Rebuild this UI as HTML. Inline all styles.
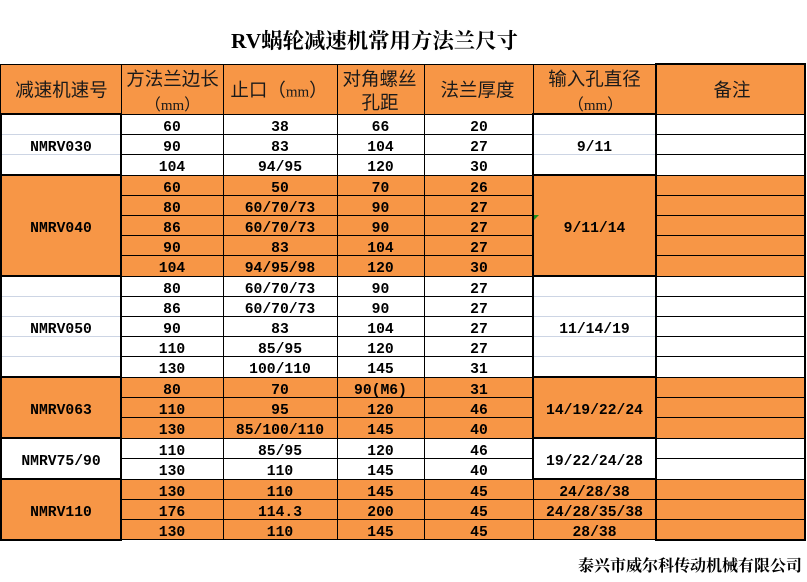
<!DOCTYPE html>
<html>
<head>
<meta charset="utf-8">
<style>
html,body{margin:0;padding:0;background:#fff;}
svg{display:block;}
.d{font-family:"Liberation Mono","Noto Sans CJK SC",monospace;font-weight:bold;font-size:14.7px;fill:#000;text-anchor:middle;}
.h{font-family:"Noto Sans CJK SC","Liberation Sans",sans-serif;font-size:18.5px;fill:#1a1a1a;text-anchor:middle;}
.hs{font-family:"Noto Sans CJK SC","Liberation Sans",sans-serif;font-size:16px;fill:#1a1a1a;text-anchor:middle;}
.mm{font-family:"Liberation Serif",serif;font-size:15px;}
</style>
</head>
<body>
<svg width="807" height="582" viewBox="0 0 807 582" xmlns="http://www.w3.org/2000/svg">
<rect x="0" y="0" width="807" height="582" fill="#fff"/>
<g fill="#F79646">
<rect x="0" y="64" width="806" height="50"/>
<rect x="0" y="175" width="806" height="101"/>
<rect x="0" y="377" width="806" height="61"/>
<rect x="0" y="479" width="806" height="61"/>
</g>
<g fill="#CDD5E4">
<rect x="1" y="134" width="119" height="1"/>
<rect x="1" y="154" width="119" height="1"/>
<rect x="1" y="296" width="119" height="1"/>
<rect x="1" y="316" width="119" height="1"/>
<rect x="1" y="336" width="119" height="1"/>
<rect x="1" y="356" width="119" height="1"/>
<rect x="534" y="134" width="121" height="1"/>
<rect x="534" y="154" width="121" height="1"/>
<rect x="534" y="296" width="121" height="1"/>
<rect x="534" y="316" width="121" height="1"/>
<rect x="534" y="336" width="121" height="1"/>
<rect x="534" y="356" width="121" height="1"/>
</g>
<g fill="#000">
<rect x="0" y="64" width="656" height="1"/>
<rect x="121" y="114" width="412" height="1"/>
<rect x="121" y="134" width="412" height="1"/>
<rect x="121" y="154" width="412" height="1"/>
<rect x="121" y="175" width="412" height="1"/>
<rect x="121" y="195" width="412" height="1"/>
<rect x="121" y="215" width="412" height="1"/>
<rect x="121" y="235" width="412" height="1"/>
<rect x="121" y="255" width="412" height="1"/>
<rect x="121" y="276" width="412" height="1"/>
<rect x="121" y="296" width="412" height="1"/>
<rect x="121" y="316" width="412" height="1"/>
<rect x="121" y="336" width="412" height="1"/>
<rect x="121" y="356" width="412" height="1"/>
<rect x="121" y="377" width="412" height="1"/>
<rect x="121" y="397" width="412" height="1"/>
<rect x="121" y="417" width="412" height="1"/>
<rect x="121" y="438" width="412" height="1"/>
<rect x="121" y="458" width="412" height="1"/>
<rect x="121" y="479" width="412" height="1"/>
<rect x="121" y="499" width="412" height="1"/>
<rect x="121" y="519" width="412" height="1"/>
<rect x="121" y="539" width="412" height="1"/>
<rect x="656" y="114" width="149" height="1"/>
<rect x="656" y="134" width="149" height="1"/>
<rect x="656" y="154" width="149" height="1"/>
<rect x="656" y="175" width="149" height="1"/>
<rect x="656" y="195" width="149" height="1"/>
<rect x="656" y="215" width="149" height="1"/>
<rect x="656" y="235" width="149" height="1"/>
<rect x="656" y="255" width="149" height="1"/>
<rect x="656" y="276" width="149" height="1"/>
<rect x="656" y="296" width="149" height="1"/>
<rect x="656" y="316" width="149" height="1"/>
<rect x="656" y="336" width="149" height="1"/>
<rect x="656" y="356" width="149" height="1"/>
<rect x="656" y="377" width="149" height="1"/>
<rect x="656" y="397" width="149" height="1"/>
<rect x="656" y="417" width="149" height="1"/>
<rect x="656" y="438" width="149" height="1"/>
<rect x="656" y="458" width="149" height="1"/>
<rect x="656" y="479" width="149" height="1"/>
<rect x="656" y="499" width="149" height="1"/>
<rect x="656" y="519" width="149" height="1"/>
<rect x="533" y="499" width="123" height="1"/>
<rect x="533" y="519" width="123" height="1"/>
<rect x="533" y="539" width="123" height="1"/>
<rect x="0" y="64" width="1" height="50"/>
<rect x="121" y="64" width="1" height="50"/>
<rect x="223" y="64" width="1" height="476"/>
<rect x="337" y="64" width="1" height="476"/>
<rect x="424" y="64" width="1" height="476"/>
<rect x="533" y="64" width="1" height="50"/>
<rect x="533" y="479" width="1" height="61"/>
</g>
<g fill="#000">
<rect x="0" y="113" width="122" height="2"/>
<rect x="0" y="174" width="122" height="2"/>
<rect x="0" y="275" width="122" height="2"/>
<rect x="0" y="376" width="122" height="2"/>
<rect x="0" y="437" width="122" height="2"/>
<rect x="0" y="478" width="122" height="2"/>
<rect x="0" y="539" width="122" height="2"/>
<rect x="0" y="114" width="2" height="426"/>
<rect x="120" y="113" width="2" height="428"/>
<rect x="532" y="113" width="125" height="2"/>
<rect x="532" y="174" width="125" height="2"/>
<rect x="532" y="275" width="125" height="2"/>
<rect x="532" y="376" width="125" height="2"/>
<rect x="532" y="437" width="125" height="2"/>
<rect x="532" y="478" width="125" height="2"/>
<rect x="532" y="113" width="2" height="367"/>
<rect x="655" y="63" width="151" height="2"/>
<rect x="655" y="63" width="2" height="478"/>
<rect x="804" y="63" width="2" height="478"/>
<rect x="655" y="539" width="151" height="2"/>
</g>
<polygon points="534,215 539,215 534,220" fill="#1a8f1a"/>

<text x="231" y="48" font-family="Liberation Serif, Noto Serif CJK SC, serif" font-weight="bold" font-size="21" fill="#000" textLength="287" lengthAdjust="spacingAndGlyphs">RV蜗轮减速机常用方法兰尺寸</text>

<text class="h" x="61.5" y="96.7">减速机速号</text>
<text class="h" x="172.5" y="85.5">方法兰边长</text>
<text class="hs" x="172.5" y="110">（<tspan class="mm">mm</tspan>）</text>
<text class="h" x="279" y="96.7">止口（<tspan class="mm" font-size="16">mm</tspan>）</text>
<text class="h" x="379.5" y="85.5">对角螺丝</text>
<text class="h" x="380" y="109">孔距</text>
<text class="h" x="477.5" y="96.7">法兰厚度</text>
<text class="h" x="594.5" y="85.5">输入孔直径</text>
<text class="hs" x="595.5" y="110">（<tspan class="mm">mm</tspan>）</text>
<text class="h" x="732" y="96.7">备注</text>

<text class="d" x="61" y="151">NMRV030</text>
<text class="d" x="61" y="232">NMRV040</text>
<text class="d" x="61" y="333">NMRV050</text>
<text class="d" x="61" y="414">NMRV063</text>
<text class="d" x="61" y="465">NMRV75/90</text>
<text class="d" x="61" y="516">NMRV110</text>

<text class="d" x="594.5" y="151">9/11</text>
<text class="d" x="594.5" y="232">9/11/14</text>
<text class="d" x="594.5" y="333">11/14/19</text>
<text class="d" x="594.5" y="414">14/19/22/24</text>
<text class="d" x="594.5" y="465">19/22/24/28</text>
<text class="d" x="594.5" y="496">24/28/38</text>
<text class="d" x="594.5" y="516">24/28/35/38</text>
<text class="d" x="594.5" y="536">28/38</text>

<g>
<text class="d" x="172" y="131">60</text><text class="d" x="280" y="131">38</text><text class="d" x="380.5" y="131">66</text><text class="d" x="479" y="131">20</text>
<text class="d" x="172" y="151">90</text><text class="d" x="280" y="151">83</text><text class="d" x="380.5" y="151">104</text><text class="d" x="479" y="151">27</text>
<text class="d" x="172" y="171">104</text><text class="d" x="280" y="171">94/95</text><text class="d" x="380.5" y="171">120</text><text class="d" x="479" y="171">30</text>
<text class="d" x="172" y="192">60</text><text class="d" x="280" y="192">50</text><text class="d" x="380.5" y="192">70</text><text class="d" x="479" y="192">26</text>
<text class="d" x="172" y="212">80</text><text class="d" x="280" y="212">60/70/73</text><text class="d" x="380.5" y="212">90</text><text class="d" x="479" y="212">27</text>
<text class="d" x="172" y="232">86</text><text class="d" x="280" y="232">60/70/73</text><text class="d" x="380.5" y="232">90</text><text class="d" x="479" y="232">27</text>
<text class="d" x="172" y="252">90</text><text class="d" x="280" y="252">83</text><text class="d" x="380.5" y="252">104</text><text class="d" x="479" y="252">27</text>
<text class="d" x="172" y="272">104</text><text class="d" x="280" y="272">94/95/98</text><text class="d" x="380.5" y="272">120</text><text class="d" x="479" y="272">30</text>
<text class="d" x="172" y="293">80</text><text class="d" x="280" y="293">60/70/73</text><text class="d" x="380.5" y="293">90</text><text class="d" x="479" y="293">27</text>
<text class="d" x="172" y="313">86</text><text class="d" x="280" y="313">60/70/73</text><text class="d" x="380.5" y="313">90</text><text class="d" x="479" y="313">27</text>
<text class="d" x="172" y="333">90</text><text class="d" x="280" y="333">83</text><text class="d" x="380.5" y="333">104</text><text class="d" x="479" y="333">27</text>
<text class="d" x="172" y="353">110</text><text class="d" x="280" y="353">85/95</text><text class="d" x="380.5" y="353">120</text><text class="d" x="479" y="353">27</text>
<text class="d" x="172" y="373">130</text><text class="d" x="280" y="373">100/110</text><text class="d" x="380.5" y="373">145</text><text class="d" x="479" y="373">31</text>
<text class="d" x="172" y="394">80</text><text class="d" x="280" y="394">70</text><text class="d" x="380.5" y="394">90(M6)</text><text class="d" x="479" y="394">31</text>
<text class="d" x="172" y="414">110</text><text class="d" x="280" y="414">95</text><text class="d" x="380.5" y="414">120</text><text class="d" x="479" y="414">46</text>
<text class="d" x="172" y="434">130</text><text class="d" x="280" y="434">85/100/110</text><text class="d" x="380.5" y="434">145</text><text class="d" x="479" y="434">40</text>
<text class="d" x="172" y="455">110</text><text class="d" x="280" y="455">85/95</text><text class="d" x="380.5" y="455">120</text><text class="d" x="479" y="455">46</text>
<text class="d" x="172" y="475">130</text><text class="d" x="280" y="475">110</text><text class="d" x="380.5" y="475">145</text><text class="d" x="479" y="475">40</text>
<text class="d" x="172" y="496">130</text><text class="d" x="280" y="496">110</text><text class="d" x="380.5" y="496">145</text><text class="d" x="479" y="496">45</text>
<text class="d" x="172" y="516">176</text><text class="d" x="280" y="516">114.3</text><text class="d" x="380.5" y="516">200</text><text class="d" x="479" y="516">45</text>
<text class="d" x="172" y="536">130</text><text class="d" x="280" y="536">110</text><text class="d" x="380.5" y="536">145</text><text class="d" x="479" y="536">45</text>
</g>

<text x="578" y="571" font-family="Noto Serif CJK SC, serif" font-weight="bold" font-size="16" fill="#000" textLength="224" lengthAdjust="spacingAndGlyphs">泰兴市威尔科传动机械有限公司</text>
</svg>
</body>
</html>
